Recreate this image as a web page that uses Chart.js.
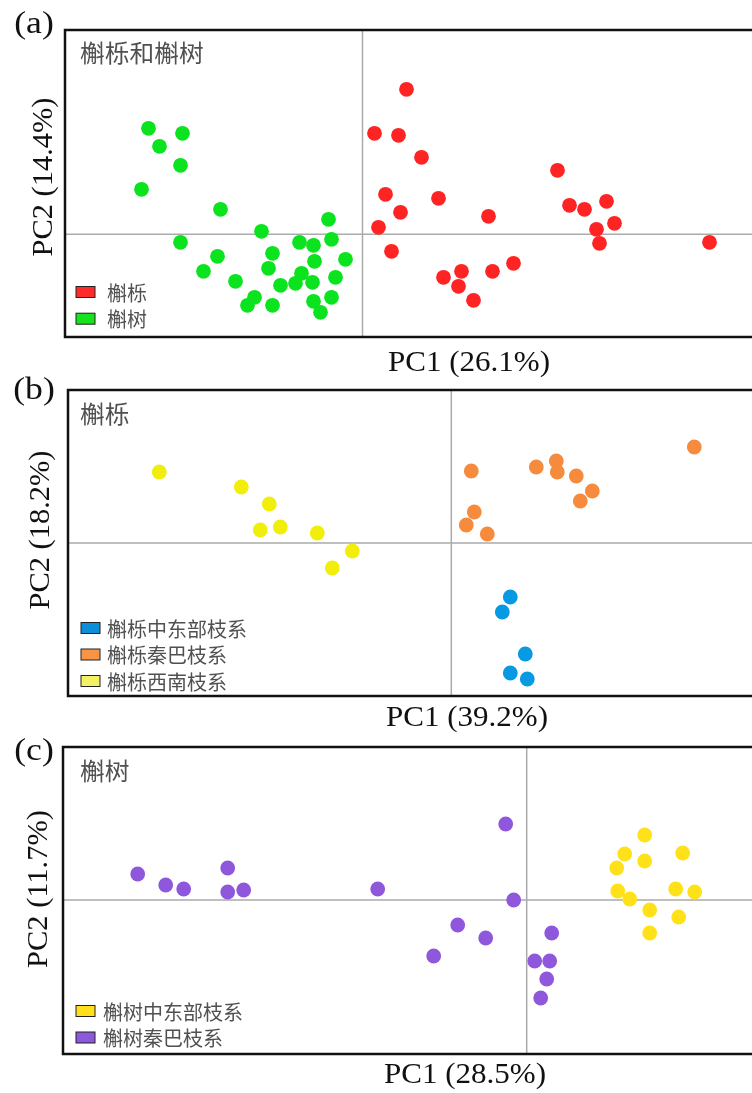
<!DOCTYPE html>
<html>
<head>
<meta charset="utf-8">
<script src="https://cdn.jsdelivr.net/npm/chart.js@4.4.1/dist/chart.umd.min.js"></script>
<style>
  html, body { margin: 0; padding: 0; background: #fff; overflow: hidden; width: 752px; height: 1093px; }
  canvas { position: absolute; left: 0; top: 0; }
</style>
</head>
<body>
<canvas id="panelA" width="760" height="1093"></canvas>
<canvas id="panelB" width="760" height="1093"></canvas>
<canvas id="panelC" width="760" height="1093"></canvas>
<script>
// PCA scores (arbitrary units, origin at the crosshair)

// (a) 槲栎 vs 槲树
const aAlienaPts = [
  [4.4, 14.5], [1.2, 10.1], [3.6, 9.9], [5.9, 7.7], [2.3, 4.0], [7.6, 3.6],
  [3.8, 2.2], [1.6, 0.7], [2.9, -1.7], [12.6, 1.8], [19.5, 6.4], [20.7, 2.9],
  [22.2, 2.5], [24.4, 3.3], [25.2, 1.1], [23.4, 0.5], [23.7, -0.9], [34.7, -0.8],
  [8.1, -4.3], [9.9, -3.7], [9.6, -5.2], [11.1, -6.6], [13.0, -3.7], [15.1, -2.9]
];
const aDentataPts = [
  [-21.4, 10.6], [-18.0, 10.1], [-20.3, 8.8], [-18.2, 6.9], [-22.1, 4.5], [-14.2, 2.5],
  [-3.4, 1.5], [-10.1, 0.3], [-18.2, -0.8], [-3.1, -0.5], [-6.3, -0.8], [-4.9, -1.1],
  [-9.0, -1.9], [-1.7, -2.5], [-14.5, -2.2], [-4.8, -2.7], [-9.4, -3.4], [-15.9, -3.7],
  [-6.1, -3.9], [-2.7, -4.3], [-12.7, -4.7], [-8.2, -5.1], [-6.7, -4.9], [-5.0, -4.8],
  [-10.8, -6.3], [-11.5, -7.1], [-9.0, -7.1], [-4.9, -6.7], [-3.1, -6.3], [-4.2, -7.8]
];

// (b) 槲栎 lineages
const bEastPts = [[5.9, -5.4], [5.1, -6.9], [7.4, -11.1], [5.9, -13.0], [7.6, -13.6]];
const bQinbaPts = [
  [2.0, 7.2], [8.5, 7.6], [10.5, 8.2], [10.6, 7.1], [12.5, 6.7], [14.1, 5.2],
  [12.9, 4.2], [2.3, 3.1], [1.5, 1.8], [3.6, 0.9], [24.3, 9.6]
];
const bSouthwestPts = [
  [-29.2, 7.1], [-21.0, 5.6], [-18.2, 3.9], [-19.1, 1.3], [-17.1, 1.6], [-13.4, 1.0],
  [-9.9, -0.8], [-11.9, -2.5]
];

// (c) 槲树 lineages
const cEastPts = [
  [11.8, 6.5], [9.8, 4.6], [15.6, 4.7], [11.8, 3.9], [9.0, 3.2], [9.1, 0.9],
  [14.9, 1.1], [16.8, 0.8], [10.3, 0.1], [12.3, -1.0], [15.2, -1.7], [12.3, -3.3]
];
const cQinbaPts = [
  [-38.9, 2.6], [-36.1, 1.5], [-34.3, 1.1], [-29.9, 3.2], [-29.9, 0.8], [-28.3, 1.0],
  [-14.9, 1.1], [-9.3, -5.6], [-6.9, -2.5], [-4.1, -3.8], [-2.1, 7.6], [-1.3, 0.0],
  [2.5, -3.3], [0.8, -6.1], [2.3, -6.1], [2.0, -7.9], [1.4, -9.8]
];

const axisLabelsX = ['PC1 (26.1%)', 'PC1 (39.2%)', 'PC1 (28.5%)'];
const axisLabelsY = ['PC2 (14.4%)', 'PC2 (18.2%)', 'PC2 (11.7%)'];
const panelLetters = ['(a)', '(b)', '(c)'];
const panelTitles = ['槲栎和槲树', '槲栎', '槲树'];

const SERIF = '"Liberation Serif", "DejaVu Serif", serif';
const CJK = '"Noto Sans CJK SC", "Noto Sans", sans-serif';

function toXY(pts) {
  return pts.map(function(p) { return { x: p[0], y: p[1] }; });
}

function series(label, pts, color, legendColor) {
  return {
    label: label,
    data: toXY(pts),
    backgroundColor: color,
    borderWidth: 0,
    pointRadius: 7.4,
    legendColor: legendColor || color
  };
}

// text squeezed/stretched along its own baseline, the source figure is a bit wide
function wideText(ctx, text, x, y, sx, rot) {
  ctx.save();
  ctx.translate(x, y);
  if (rot) ctx.rotate(rot);
  ctx.scale(sx, 1);
  ctx.fillText(text, 0, 0);
  ctx.restore();
}

// crosshair, frame, labels and the inset legend
const panelDecor = {
  id: 'panelDecor',
  beforeDatasetsDraw(chart) {
    const ctx = chart.ctx, a = chart.chartArea;
    const x0 = chart.scales.x.getPixelForValue(0);
    const y0 = chart.scales.y.getPixelForValue(0);
    ctx.save();
    ctx.strokeStyle = '#ababab';
    ctx.lineWidth = 1.5;
    ctx.beginPath();
    ctx.moveTo(x0, a.top); ctx.lineTo(x0, a.bottom);
    ctx.moveTo(a.left, y0); ctx.lineTo(a.right, y0);
    ctx.stroke();
    ctx.restore();
  },
  afterDraw(chart, args, o) {
    const ctx = chart.ctx, a = chart.chartArea;
    ctx.save();
    ctx.strokeStyle = '#111';
    ctx.lineWidth = 2.5;
    ctx.strokeRect(a.left, a.top, a.right - a.left, a.bottom - a.top);

    ctx.fillStyle = '#111';
    ctx.textBaseline = 'middle';
    ctx.textAlign = 'center';
    ctx.font = '31px ' + SERIF;
    wideText(ctx, o.letter, o.letterPos[0], o.letterPos[1], 1.15);
    ctx.font = '29px ' + SERIF;
    wideText(ctx, o.xLabel, o.xLabelPos[0], o.xLabelPos[1], 1.07);
    wideText(ctx, o.yLabel, o.yLabelPos[0], o.yLabelPos[1], 1.05, -Math.PI / 2);

    ctx.textAlign = 'left';
    ctx.fillStyle = '#505050';
    ctx.font = '24px ' + CJK;
    wideText(ctx, o.title, o.titlePos[0], o.titlePos[1], 1.03);

    ctx.font = '20px ' + CJK;
    o.legendOrder.forEach(function(di, i) {
      const ds = chart.data.datasets[di];
      const y = o.legendPos[1] + i * o.legendStep;
      ctx.fillStyle = ds.legendColor;
      ctx.fillRect(o.legendPos[0], y - 5.5, 19, 11);
      ctx.strokeStyle = '#222';
      ctx.lineWidth = 1;
      ctx.strokeRect(o.legendPos[0], y - 5.5, 19, 11);
      ctx.fillStyle = '#505050';
      ctx.fillText(ds.label, o.legendPos[0] + o.textGap, y + 1);
    });
    ctx.restore();
  }
};

function makePanel(id, datasets, area, range, deco) {
  return new Chart(document.getElementById(id), {
    type: 'scatter',
    data: { datasets: datasets },
    options: {
      responsive: false,
      animation: false,
      events: [],
      layout: {
        autoPadding: false,
        padding: { left: area[0], top: area[1], right: 760 - area[2], bottom: 1093 - area[3] }
      },
      scales: {
        x: { type: 'linear', display: false, min: range[0], max: range[1] },
        y: { type: 'linear', display: false, min: range[2], max: range[3] }
      },
      plugins: {
        legend: { display: false },
        tooltip: { enabled: false },
        panelDecor: deco
      }
    },
    plugins: [panelDecor]
  });
}

makePanel('panelA', [
  series('槲栎', aAlienaPts, '#fe2424', '#ff2b2b'),
  series('槲树', aDentataPts, '#0be31f', '#16e31c')
], [65, 30, 756, 337], [-29.75, 39.35, -10.27, 20.43], {
  letter: panelLetters[0], letterPos: [34, 25],
  xLabel: axisLabelsX[0], xLabelPos: [469, 363],
  yLabel: axisLabelsY[0], yLabelPos: [44, 177],
  title: panelTitles[0], titlePos: [80, 53],
  legendOrder: [0, 1], legendPos: [76, 292], legendStep: 26.7, textGap: 31
});

makePanel('panelB', [
  series('槲栎中东部枝系', bEastPts, '#0899e3', '#0a8fd8'),
  series('槲栎秦巴枝系', bQinbaPts, '#f68b3e', '#f89446'),
  series('槲栎西南枝系', bSouthwestPts, '#f0ee0a', '#f3f064')
], [68, 390, 756, 696], [-38.33, 30.47, -15.3, 15.3], {
  letter: panelLetters[1], letterPos: [34, 391],
  xLabel: axisLabelsX[1], xLabelPos: [467, 718],
  yLabel: axisLabelsY[1], yLabelPos: [41, 530],
  title: panelTitles[1], titlePos: [80, 414],
  legendOrder: [0, 1, 2], legendPos: [81, 628], legendStep: 26.5, textGap: 26
});

makePanel('panelC', [
  series('槲树中东部枝系', cEastPts, '#ffe11a', '#ffe01a'),
  series('槲树秦巴枝系', cQinbaPts, '#8f58dc', '#8c58dc')
], [63, 747, 756, 1054], [-46.37, 22.93, -15.4, 15.3], {
  letter: panelLetters[2], letterPos: [34, 752],
  xLabel: axisLabelsX[2], xLabelPos: [465, 1075],
  yLabel: axisLabelsY[2], yLabelPos: [39, 889],
  title: panelTitles[2], titlePos: [80, 771],
  legendOrder: [0, 1], legendPos: [76, 1011], legendStep: 26.5, textGap: 27
});
</script>
</body>
</html>
